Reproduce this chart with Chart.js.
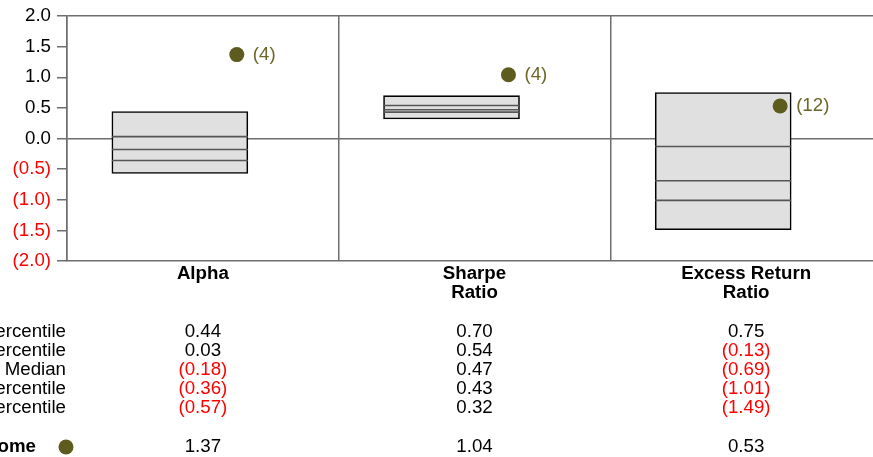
<!DOCTYPE html>
<html>
<head>
<meta charset="utf-8">
<script src="https://cdn.jsdelivr.net/npm/chart.js@4/dist/chart.umd.min.js"></script>
<style>
  html, body { margin: 0; padding: 0; background: #fff; overflow: hidden; }
  #wrap { position: absolute; left: 0; top: 0; width: 900px; height: 457px; }
</style>
</head>
<body>
<div id="wrap"><canvas id="c"></canvas></div>
<script>
// ---- data ----
const categories = [['Alpha'], ['Sharpe', 'Ratio'], ['Excess Return', 'Ratio']];
const p95 = [0.44, 0.70, 0.75];
const p75 = [0.03, 0.54, -0.13];
const median = [-0.18, 0.47, -0.69];
const p25 = [-0.36, 0.43, -1.01];
const p5 = [-0.57, 0.32, -1.49];
const outcome = [1.37, 1.04, 0.53];
const ranks = [4, 4, 12];
const rowLabels = ['95th Percentile', '75th Percentile', 'Median', '25th Percentile', '5th Percentile'];
const outcomeLabel = 'Outcome';
const yTicks = [2.0, 1.5, 1.0, 0.5, 0.0, -0.5, -1.0, -1.5, -2.0];

// ---- style ----
const FONT = '"Liberation Sans", Arial, sans-serif';
const FS = 18.7;
const GRID = '#6e6e6e';
const RED = '#ff0000';
const DOT = '#5e5b1f';
const DOTLBL = '#6a6728';
const BOX_SHIFT = 23 / 272;   // boxes sit left of category centre
const DOT_SHIFT = 34 / 272;   // dots sit right of category centre

const fmt = v => v < 0 ? '(' + Math.abs(v).toFixed(2) + ')' : v.toFixed(2);
const fmtTick = v => v < 0 ? '(' + Math.abs(v).toFixed(1) + ')' : v.toFixed(1);

const idx = categories.map((_, i) => i);

const tablePlugin = {
  id: 'tablePlugin',
  afterDraw(chart) {
    const ctx = chart.ctx;
    const xs = chart.scales.x;
    const xd = chart.scales.xd;
    const ys = chart.scales.y;
    const bottom = chart.chartArea.bottom;
    ctx.save();
    // rank labels
    ctx.font = FS + 'px ' + FONT;
    ctx.textBaseline = 'middle';
    ctx.textAlign = 'left';
    ctx.fillStyle = DOTLBL;
    idx.forEach(i => {
      ctx.fillText('(' + ranks[i] + ')', xd.getPixelForValue(i) + 16, ys.getPixelForValue(outcome[i]));
    });
    // table rows
    const rows = [p95, p75, median, p25, p5];
    rows.forEach((arr, r) => {
      const y = bottom + 71 + r * 19;
      ctx.textAlign = 'right';
      ctx.fillStyle = '#000';
      ctx.font = FS + 'px ' + FONT;
      ctx.fillText(rowLabels[r], 66, y);
      ctx.textAlign = 'center';
      arr.forEach((v, i) => {
        ctx.fillStyle = v < 0 ? RED : '#000';
        ctx.fillText(fmt(v), xs.getPixelForValue(i), y);
      });
    });
    const yo = bottom + 186;
    ctx.textAlign = 'right';
    ctx.fillStyle = '#000';
    ctx.font = 'bold ' + FS + 'px ' + FONT;
    ctx.fillText(outcomeLabel, 36, yo);
    ctx.beginPath();
    ctx.fillStyle = DOT;
    ctx.arc(66, yo, 7.5, 0, Math.PI * 2);
    ctx.fill();
    ctx.font = FS + 'px ' + FONT;
    ctx.textAlign = 'center';
    outcome.forEach((v, i) => {
      ctx.fillStyle = v < 0 ? RED : '#000';
      ctx.fillText(fmt(v), xs.getPixelForValue(i), yo);
    });
    ctx.restore();
  }
};

const quartilePts = [];
idx.forEach(i => {
  quartilePts.push({x: i, y: p75[i]}, {x: i, y: median[i]}, {x: i, y: p25[i]});
});

new Chart(document.getElementById('c'), {
  type: 'bar',
  data: {
    labels: categories,
    datasets: [
      {
        type: 'scatter',
        label: 'Outcome',
        xAxisID: 'xd', yAxisID: 'y',
        data: idx.map(i => ({x: i, y: outcome[i]})),
        pointRadius: 7.5,
        pointBackgroundColor: DOT,
        pointBorderWidth: 0,
        clip: false,
        order: 1
      },
      {
        type: 'scatter',
        label: 'Quartiles',
        xAxisID: 'xb', yAxisID: 'y',
        data: quartilePts,
        pointStyle: 'line',
        pointRadius: 68,
        pointBorderColor: '#555555',
        pointBorderWidth: 1.6,
        clip: false,
        order: 2
      },
      {
        type: 'bar',
        label: 'Range',
        xAxisID: 'xb', yAxisID: 'y',
        data: idx.map(i => ({x: i, y: [p5[i], p95[i]]})),
        backgroundColor: '#e0e0e0',
        borderColor: '#000',
        borderWidth: 1.6,
        borderSkipped: false,
        grouped: false,
        barThickness: 136,
        maxBarThickness: 136,
        order: 3
      }
    ]
  },
  options: {
    responsive: true,
    maintainAspectRatio: false,
    animation: false,
    layout: { autoPadding: false, padding: { top: 16, right: 18, left: 0, bottom: 0 } },
    plugins: { legend: { display: false }, tooltip: { enabled: false } },
    scales: {
      x: {
        type: 'category',
        offset: true,
        grid: { offset: true, color: GRID, lineWidth: 1.5, drawTicks: false },
        border: { display: true, color: GRID, width: 1.5 },
        ticks: {
          color: '#000',
          font: { family: FONT, size: FS, weight: 'bold', lineHeight: 1.0 },
          padding: 4,
          maxRotation: 0, autoSkip: false
        },
        afterFit(s) { s.height = 196; s.paddingLeft = 0; s.paddingRight = 0; }
      },
      xb: { type: 'linear', display: false, offset: false, grid: { offset: false },
            min: -0.5 + BOX_SHIFT, max: 2.5 + BOX_SHIFT },
      xd: { type: 'linear', display: false, offset: false, grid: { offset: false },
            min: -0.5 - DOT_SHIFT, max: 2.5 - DOT_SHIFT },
      y: {
        type: 'linear',
        min: -2, max: 2,
        afterBuildTicks(s) { s.ticks = yTicks.map(v => ({value: v})); },
        grid: {
          color: c => (c.tick && (c.tick.value === 0 || c.tick.value === 2)) ? GRID : 'rgba(0,0,0,0)',
          tickColor: GRID,
          lineWidth: 1.5,
          tickLength: 10
        },
        border: { display: true, color: GRID, width: 1.5 },
        ticks: {
          padding: 6,
          autoSkip: false,
          color: c => c.tick.value < 0 ? RED : '#000',
          font: { family: FONT, size: FS },
          callback: v => fmtTick(v)
        },
        afterFit(s) { s.width = 67; s.paddingTop = 0; s.paddingBottom = 0; }
      }
    }
  },
  plugins: [tablePlugin]
});
</script>
</body>
</html>
